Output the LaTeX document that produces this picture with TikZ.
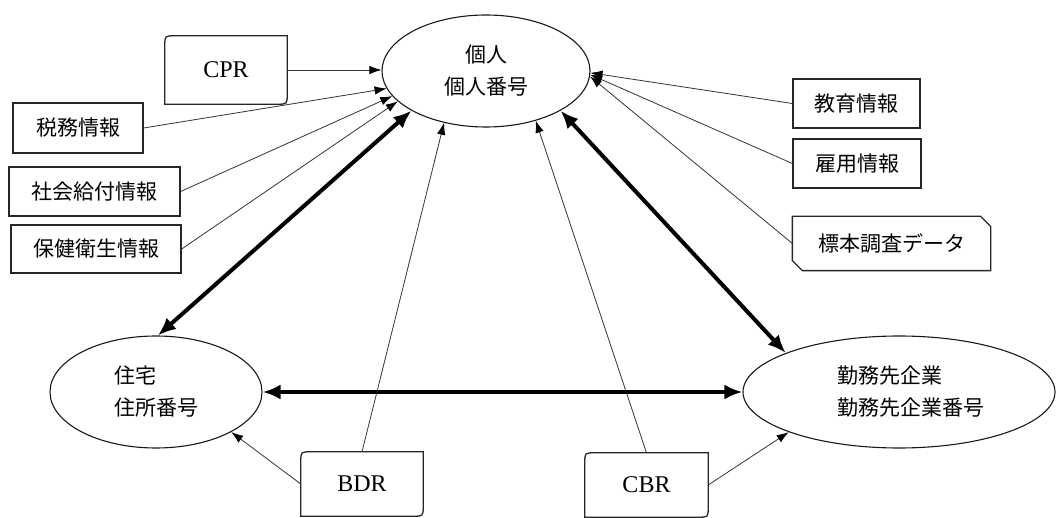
\documentclass[tikz,border=0pt]{standalone}
\usepackage{fontspec}
\setmainfont{Liberation Serif}
\newfontfamily\jp{Noto Sans CJK JP}
\usetikzlibrary{arrows.meta,shapes.geometric}
\newcommand{\myrbox}[1]{\draw[outline] (#1.north) -- (#1.north east) -- ([yshift=10pt]#1.south east) .. controls (#1.south east) .. ([xshift=-10pt]#1.south east) -- (#1.south west) -- ([yshift=-10pt]#1.north west) .. controls (#1.north west) .. ([xshift=10pt]#1.north west) -- cycle;}
\newcommand{\mysnip}[1]{\draw[outline] (#1.north) -- ([xshift=-10pt]#1.north east) -- ([yshift=-10pt]#1.north east) -- (#1.south east) -- ([xshift=10pt]#1.south west) -- ([yshift=10pt]#1.south west) -- (#1.north west) -- cycle;}
\begin{document}
\begin{tikzpicture}[x=1pt,y=-1pt,
  box/.style={rectangle, draw=black!85, line width=1.3pt, inner sep=0pt, font=\jp\fontsize{21}{24}\selectfont},
  obox/.style={rectangle, inner sep=0pt, font=\fontsize{24}{28}\selectfont},
  ell/.style={ellipse, draw=black!90, line width=1.1pt, inner sep=0pt, font=\jp\fontsize{21}{32}\selectfont},
  thin/.style={draw=black!80, line width=0.8pt, -{Latex[length=12pt,width=8.5pt,color=black]}},
  thick/.style={line width=4pt, {Latex[length=18pt,width=15pt]}-{Latex[length=18pt,width=15pt]}},
  outline/.style={draw=black!85, line width=1.3pt}]
\useasboundingbox (0,0) rectangle (1057,518);
% ellipses
\node[ell, minimum width=208pt, minimum height=112pt, align=center] (ind) at (486,71) {個人\\個人番号};
\node[ell, minimum width=212pt, minimum height=112pt, align=left] (hou) at (156,392) {住宅\\住所番号};
\node[ell, minimum width=312pt, minimum height=112pt] (wrk) at (899,392) {};
\node[font=\jp\fontsize{21}{32}\selectfont, align=left, inner sep=0pt] (wrktext) at (911,392) {勤務先企業\\勤務先企業番号};
% boxes
\node[obox, minimum width=122pt, minimum height=68pt] (cpr) at (226,70) {CPR};
\myrbox{cpr}
\node[box, minimum width=130pt, minimum height=50pt] (tax) at (78,128) {税務情報};
\node[box, minimum width=171pt, minimum height=49pt] (soc) at (94.5,191.5) {社会給付情報};
\node[box, minimum width=170pt, minimum height=48pt] (hea) at (96,249) {保健衛生情報};
\node[box, minimum width=127pt, minimum height=49pt] (edu) at (856.5,103.5) {教育情報};
\node[box, minimum width=128pt, minimum height=49pt] (emp) at (857,163.5) {雇用情報};
\node[box, draw=none, minimum width=197pt, minimum height=53pt] (smp) at (891.5,243.5) {標本調査データ};
\mysnip{smp}
\node[obox, minimum width=122pt, minimum height=64pt] (bdr) at (362,484) {BDR};
\myrbox{bdr}
\node[obox, minimum width=123pt, minimum height=64pt] (cbr) at (646.5,485) {CBR};
\myrbox{cbr}
% thin arrows
\draw[thin] (cpr.east) -- (ind.west |- cpr.east);
\draw[thin] (tax.east) -- (ind.190);
\draw[thin] (soc.east) -- (ind.195);
\draw[thin] (hea.east) -- (ind.199);
\draw[thin] (edu.west) -- (ind.-1);
\draw[thin] (emp.west) -- (ind.-2);
\draw[thin] (smp.west) -- (ind.-3);
\draw[thin] (bdr.north) -- (ind.231);
\draw[thin] (cbr.north) -- (ind.-45);
\draw[thin] (bdr.west) -- (hou.-28);
\draw[thin] (cbr.east) -- (wrk.200);
% thick arrows
\draw[thick] (ind.208) -- (hou.88);
\draw[thick] (ind.-28) -- (wrk.161);
\draw[thick] (hou.east) -- (wrk.west);
\end{tikzpicture}
\end{document}
